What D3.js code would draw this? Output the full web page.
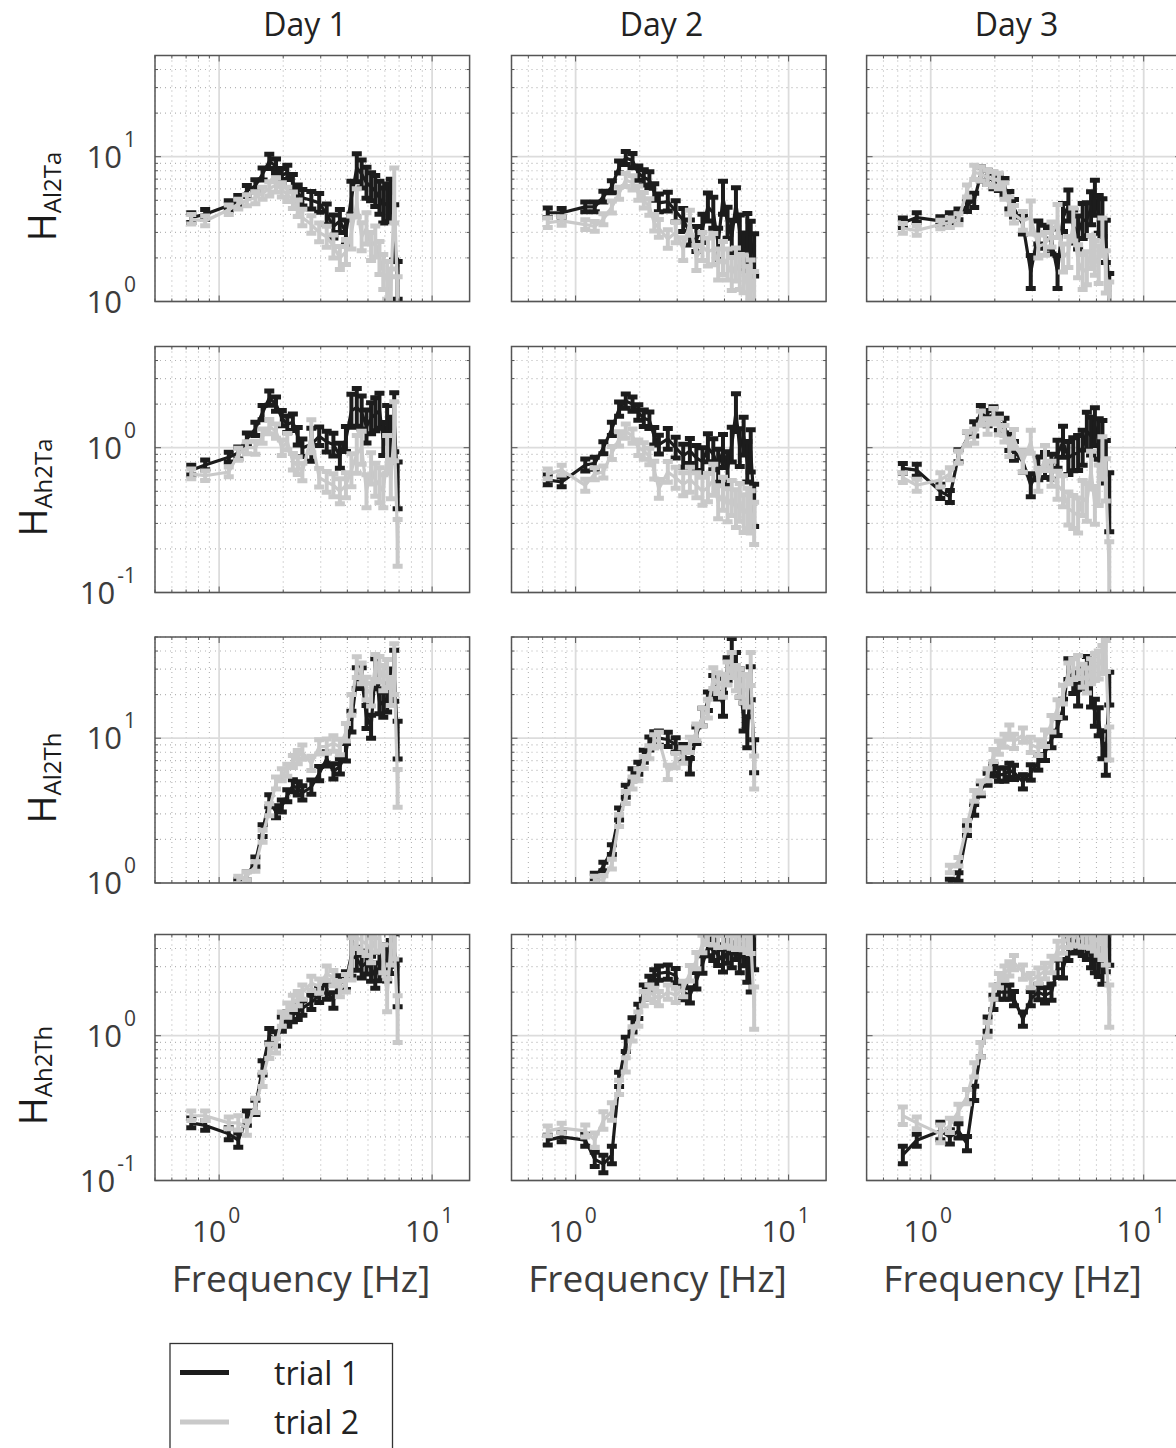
<!DOCTYPE html>
<html>
<head>
<meta charset="utf-8">
<script src="https://cdn.jsdelivr.net/npm/d3@7"></script>
<style>
  body { margin: 0; background: #fff; }
  svg { font-family: "Open Sans", sans-serif; }
</style>
</head>
<body>
<svg width="1176" height="1448"></svg>
<script>
// frequencies shared by every panel (Hz)
var freq = [0.74, 0.86, 1.11, 1.23, 1.35, 1.48, 1.60, 1.72, 1.85, 1.97, 2.09, 2.22, 2.34, 2.46, 2.71, 2.95,
            3.20, 3.44, 3.69, 3.94, 4.18, 4.43, 4.67, 4.92, 5.17, 5.41, 5.66, 5.90, 6.15, 6.40, 6.64, 6.89];

var days = ["Day 1", "Day 2", "Day 3"];
var trials = ["trial 1", "trial 2"];
var rowSubs = ["Al2Ta", "Ah2Ta", "Al2Th", "Ah2Th"];
var rowDomains = [[1, 50], [0.1, 5], [1, 50], [0.1, 5]];
var yTickExp = [[0, 1], [-1, 0], [0, 1], [-1, 0]];
var xTickExp = [0, 1];

// H_Al2Ta
var al2ta_d1_t1 = [3.8, 4.0, 4.6, 5.0, 5.8, 6.3, 7.6, 9.3, 8.6, 7.4, 7.8, 6.6, 5.6, 5.2, 5.0, 4.8, 4.0, 3.3, 3.6, 3.0, 5.2, 8.4, 7.6, 6.6, 6.2, 5.8, 5.2, 4.6, 4.8, 5.0, 3.0, 1.4];
var al2ta_d1_t2 = [3.7, 3.6, 4.3, 4.7, 5.0, 5.2, 5.6, 6.0, 6.4, 5.9, 5.5, 5.0, 4.4, 3.8, 3.4, 3.0, 2.8, 2.4, 2.0, 2.2, 3.0, 4.8, 2.8, 3.2, 2.4, 2.6, 2.0, 1.6, 1.4, 1.2, 5.4, 1.1];
var al2ta_d2_t1 = [4.1, 4.1, 4.5, 4.5, 5.3, 6.2, 8.5, 9.8, 9.4, 7.7, 7.2, 6.9, 5.7, 4.8, 4.9, 4.2, 3.65, 3.0, 2.7, 3.2, 4.5, 4.1, 2.5, 5.2, 3.5, 2.8, 4.7, 3.0, 2.2, 3.0, 2.6, 2.1];
var al2ta_d2_t2 = [3.5, 3.6, 3.4, 3.3, 3.7, 4.5, 5.6, 6.9, 6.6, 5.6, 5.0, 4.5, 3.5, 3.2, 2.7, 3.0, 2.3, 3.5, 2.0, 2.4, 2.2, 2.3, 1.8, 2.0, 1.8, 1.55, 1.8, 1.6, 1.55, 1.3, 1.4, 1.15];
var al2ta_d3_t1 = [3.5, 3.8, 3.6, 3.8, 4.0, 4.6, 5.0, 7.6, 7.2, 6.8, 6.6, 6.2, 5.0, 4.4, 3.4, 1.6, 3.0, 2.8, 2.6, 1.6, 3.8, 4.6, 3.3, 3.0, 3.6, 3.7, 4.4, 5.2, 4.0, 3.8, 2.6, 1.2];
var al2ta_d3_t2 = [3.2, 3.1, 3.4, 3.5, 3.7, 5.8, 7.8, 7.6, 7.2, 7.0, 6.8, 5.8, 4.6, 4.0, 3.6, 3.8, 2.4, 2.5, 2.9, 3.6, 2.0, 2.2, 3.4, 1.9, 1.6, 1.7, 2.2, 2.0, 1.8, 2.8, 1.6, 1.05];

// H_Ah2Ta
var ah2ta_d1_t1 = [0.70, 0.76, 0.86, 0.92, 1.15, 1.35, 1.75, 2.2, 2.0, 1.6, 1.45, 1.5, 1.2, 1.0, 1.05, 1.2, 1.1, 1.05, 0.88, 1.15, 1.8, 1.9, 1.75, 1.4, 1.6, 1.7, 1.8, 1.15, 1.45, 1.2, 1.5, 0.55];
var ah2ta_d1_t2 = [0.66, 0.64, 0.68, 0.90, 1.0, 1.0, 1.2, 1.4, 1.3, 1.0, 1.1, 0.8, 0.75, 0.68, 1.2, 0.62, 0.58, 0.55, 0.5, 0.55, 0.7, 0.9, 1.0, 0.5, 0.72, 0.6, 0.55, 0.5, 0.9, 0.6, 1.3, 0.22];
var ah2ta_d2_t1 = [0.60, 0.58, 0.76, 0.78, 1.0, 1.35, 1.85, 2.1, 2.0, 1.75, 1.6, 1.55, 1.2, 1.05, 1.15, 1.0, 0.88, 0.95, 0.85, 0.8, 1.0, 0.9, 0.75, 0.95, 0.72, 1.05, 1.75, 1.0, 1.2, 0.8, 0.95, 0.4];
var ah2ta_d2_t2 = [0.66, 0.70, 0.55, 0.66, 0.68, 0.92, 1.15, 1.3, 1.2, 1.0, 0.95, 0.87, 0.7, 0.52, 0.68, 0.62, 0.56, 0.6, 0.55, 0.5, 0.53, 0.6, 0.42, 0.48, 0.4, 0.45, 0.38, 0.42, 0.35, 0.38, 0.36, 0.3];
var ah2ta_d3_t1 = [0.72, 0.70, 0.50, 0.46, 0.88, 1.15, 1.35, 1.75, 1.6, 1.7, 1.5, 1.4, 1.1, 0.95, 0.8, 0.55, 0.72, 0.76, 0.74, 0.9, 1.1, 0.85, 0.9, 0.92, 1.0, 1.3, 1.2, 1.4, 1.15, 1.1, 0.8, 0.42];
var ah2ta_d3_t2 = [0.62, 0.55, 0.60, 0.66, 0.86, 1.15, 1.2, 1.6, 1.4, 1.65, 1.4, 1.25, 1.0, 1.15, 0.8, 1.1, 0.6, 0.85, 0.66, 0.55, 0.5, 0.38, 0.36, 0.34, 0.45, 0.42, 0.7, 0.4, 0.55, 0.85, 0.6, 0.14];

// H_Al2Th
var al2th_d1_t1 = [null, null, null, 1.0, 1.12, 1.4, 2.3, 3.7, 3.1, 3.4, 4.0, 4.7, 4.5, 4.2, 4.6, 5.7, 7.2, 5.9, 6.4, 8.0, 13, 26, 26, 14, 12, 29, 18, 17, 19, 24, 27, 9.7];
var al2th_d1_t2 = [null, null, null, 1.05, 1.12, 1.3, 2.1, 3.2, 4.9, 5.6, 6.0, 6.9, 7.4, 8.0, 6.7, 8.7, 8.8, 9.2, 8.7, 11, 17, 31, 28, 22, 20, 31, 30, 26, 28, 21, 30, 4.5];
var al2th_d2_t1 = [null, null, null, 1.1, 1.3, 1.7, 3.0, 4.3, 5.6, 6.2, 7.5, 9.2, 10, 10, 9.8, 9.0, 8.0, 6.4, 10.5, 14, 18, 23, 22, 17, 30, 40, 32, 24, 14, 11, 24, 7.5];
var al2th_d2_t2 = [null, null, null, 1.05, 1.05, 1.35, 2.7, 3.9, 4.9, 5.6, 6.8, 8.0, 9.5, 9.8, 5.8, 7.0, 7.6, 9.0, 11, 14, 16, 26, 24, 23, 28, 32, 26, 24, 22, 21, 30, 5.8];
var al2th_d3_t1 = [null, null, null, 1.0, 1.1, 2.3, 3.2, 4.4, 5.2, 6.0, 5.6, 5.6, 6.0, 5.8, 5.0, 5.8, 6.8, 8.0, 9.8, 12, 16, 30, 24, 20, 26, 30, 20, 15, 13, 9.0, 7.1, 22];
var al2th_d3_t2 = [null, null, null, 1.25, 1.4, 2.5, 4.0, 4.6, 5.6, 7.6, 8.6, 9.6, 11, 9.5, 10.5, 9.0, 8.6, 10, 12.6, 16, 20, 28, 30, 31, 27, 25, 29, 31, 32, 35, 37, 9.2];

// H_Ah2Th
var ah2th_d1_t1 = [0.25, 0.24, 0.21, 0.19, 0.27, 0.32, 0.6, 1.0, 0.95, 1.2, 1.3, 1.4, 1.45, 1.55, 1.7, 1.9, 2.0, 1.75, 2.3, 2.4, 3.6, 3.4, 3.0, 3.2, 2.9, 2.6, 3.0, 3.4, 3.1, 3.5, 3.9, 2.3];
var ah2th_d1_t2 = [0.28, 0.28, 0.25, 0.25, 0.23, 0.33, 0.5, 0.78, 0.85, 1.3, 1.5, 1.7, 1.8, 2.0, 2.3, 2.2, 2.7, 2.5, 2.1, 2.3, 3.4, 4.8, 4.5, 4.3, 3.9, 4.6, 4.8, 3.4, 1.9, 4.0, 4.4, 1.3];
var ah2th_d2_t1 = [0.19, 0.20, 0.19, 0.14, 0.13, 0.15, 0.5, 0.87, 1.19, 1.47, 2.0, 2.3, 2.55, 2.7, 2.75, 2.6, 2.0, 1.9, 2.4, 3.1, 4.1, 3.9, 3.6, 3.3, 3.8, 3.6, 4.1, 3.4, 3.8, 3.0, 2.6, 4.0];
var ah2th_d2_t2 = [0.22, 0.23, 0.22, 0.19, 0.26, 0.30, 0.44, 0.63, 1.03, 1.3, 1.8, 2.0, 1.9, 1.8, 2.0, 1.9, 2.1, 2.7, 3.3, 4.3, 4.9, 5.0, 4.8, 4.9, 5.0, 4.9, 4.8, 5.0, 4.9, 4.8, 4.8, 1.55];
var ah2th_d3_t1 = [0.15, 0.19, 0.22, 0.20, 0.22, 0.18, 0.4, 0.8, 1.2, 1.7, 2.0, 2.0, 2.0, 1.8, 1.3, 1.8, 2.0, 1.9, 2.0, 2.9, 2.9, 3.9, 4.4, 4.6, 4.3, 4.1, 3.6, 3.4, 3.2, 2.9, 3.6, 4.3];
var ah2th_d3_t2 = [0.28, 0.25, 0.21, 0.24, 0.30, 0.38, 0.58, 0.8, 1.1, 2.0, 2.4, 2.7, 2.9, 3.2, 2.75, 2.4, 2.6, 2.8, 3.1, 3.9, 4.3, 4.8, 5.0, 5.0, 4.9, 5.0, 4.9, 4.8, 4.5, 4.3, 4.0, 1.6];

// relative error-bar half widths, one list per panel (both trials)
var err_al2ta = [
  [0.08, 0.08, 0.08, 0.08, 0.09, 0.10, 0.10, 0.12, 0.12, 0.12, 0.12, 0.14, 0.14, 0.14, 0.15, 0.16, 0.18, 0.20, 0.20, 0.22, 0.30, 0.25, 0.25, 0.28, 0.25, 0.28, 0.30, 0.32, 0.35, 0.40, 0.55, 0.35],
  [0.08, 0.07, 0.08, 0.08, 0.09, 0.10, 0.10, 0.11, 0.12, 0.12, 0.13, 0.14, 0.14, 0.15, 0.16, 0.18, 0.20, 0.22, 0.22, 0.25, 0.25, 0.28, 0.28, 0.30, 0.28, 0.30, 0.30, 0.32, 0.35, 0.35, 0.38, 0.40],
  [0.08, 0.08, 0.07, 0.08, 0.09, 0.10, 0.12, 0.12, 0.12, 0.13, 0.13, 0.14, 0.15, 0.15, 0.16, 0.30, 0.20, 0.20, 0.22, 0.30, 0.25, 0.28, 0.30, 0.30, 0.32, 0.30, 0.30, 0.32, 0.35, 0.35, 0.40, 0.30]
];
var err_ah2ta = [
  [0.08, 0.08, 0.08, 0.10, 0.10, 0.11, 0.12, 0.12, 0.12, 0.13, 0.14, 0.14, 0.15, 0.15, 0.30, 0.16, 0.18, 0.20, 0.22, 0.22, 0.30, 0.35, 0.30, 0.30, 0.28, 0.30, 0.32, 0.30, 0.35, 0.35, 0.60, 0.45],
  [0.08, 0.08, 0.10, 0.10, 0.10, 0.11, 0.12, 0.12, 0.12, 0.13, 0.14, 0.14, 0.15, 0.16, 0.18, 0.18, 0.20, 0.22, 0.22, 0.25, 0.25, 0.28, 0.30, 0.30, 0.30, 0.32, 0.35, 0.35, 0.35, 0.38, 0.40, 0.40],
  [0.08, 0.10, 0.12, 0.10, 0.10, 0.11, 0.12, 0.12, 0.13, 0.13, 0.14, 0.14, 0.15, 0.16, 0.18, 0.20, 0.20, 0.22, 0.22, 0.25, 0.28, 0.30, 0.30, 0.32, 0.32, 0.35, 0.35, 0.35, 0.38, 0.40, 0.40, 0.60]
];
var err_al2th = [
  [0, 0, 0, 0.06, 0.07, 0.08, 0.10, 0.10, 0.10, 0.10, 0.10, 0.10, 0.11, 0.12, 0.12, 0.12, 0.12, 0.13, 0.13, 0.15, 0.18, 0.18, 0.18, 0.20, 0.20, 0.22, 0.22, 0.22, 0.25, 0.25, 0.50, 0.35],
  [0, 0, 0, 0.06, 0.07, 0.08, 0.10, 0.10, 0.10, 0.10, 0.10, 0.11, 0.11, 0.12, 0.12, 0.12, 0.13, 0.13, 0.14, 0.15, 0.16, 0.18, 0.18, 0.20, 0.20, 0.22, 0.22, 0.25, 0.25, 0.28, 0.30, 0.30],
  [0, 0, 0, 0.06, 0.07, 0.08, 0.09, 0.10, 0.10, 0.10, 0.11, 0.11, 0.12, 0.12, 0.12, 0.13, 0.13, 0.14, 0.14, 0.15, 0.16, 0.18, 0.18, 0.20, 0.20, 0.22, 0.22, 0.24, 0.25, 0.25, 0.28, 0.30]
];
var err_ah2th = [
  [0.08, 0.08, 0.10, 0.12, 0.12, 0.12, 0.12, 0.12, 0.12, 0.12, 0.12, 0.12, 0.12, 0.12, 0.12, 0.12, 0.12, 0.13, 0.13, 0.15, 0.40, 0.20, 0.20, 0.20, 0.22, 0.22, 0.25, 0.25, 0.30, 0.30, 0.30, 0.45],
  [0.08, 0.08, 0.10, 0.12, 0.15, 0.15, 0.12, 0.12, 0.12, 0.12, 0.12, 0.12, 0.12, 0.12, 0.12, 0.12, 0.13, 0.13, 0.14, 0.15, 0.15, 0.18, 0.18, 0.20, 0.20, 0.22, 0.22, 0.25, 0.25, 0.28, 0.30, 0.40],
  [0.15, 0.10, 0.15, 0.12, 0.12, 0.12, 0.12, 0.12, 0.12, 0.12, 0.12, 0.12, 0.12, 0.12, 0.12, 0.12, 0.13, 0.13, 0.14, 0.15, 0.16, 0.18, 0.18, 0.20, 0.20, 0.22, 0.22, 0.25, 0.25, 0.28, 0.30, 0.40]
];

var rowSeries = [
  [[al2ta_d1_t1, al2ta_d1_t2], [al2ta_d2_t1, al2ta_d2_t2], [al2ta_d3_t1, al2ta_d3_t2]],
  [[ah2ta_d1_t1, ah2ta_d1_t2], [ah2ta_d2_t1, ah2ta_d2_t2], [ah2ta_d3_t1, ah2ta_d3_t2]],
  [[al2th_d1_t1, al2th_d1_t2], [al2th_d2_t1, al2th_d2_t2], [al2th_d3_t1, al2th_d3_t2]],
  [[ah2th_d1_t1, ah2th_d1_t2], [ah2th_d2_t1, ah2th_d2_t2], [ah2th_d3_t1, ah2th_d3_t2]]
];
var rowErr = [err_al2ta, err_ah2ta, err_al2th, err_ah2th];

var trialColors = ["#1c1c1c", "#c9c9c9"];
var colX = [155, 511.5, 866.6];
var rowY = [55.5, 346.5, 637, 934.5];
var pw = 314.6, ph = 246;

var svg = d3.select("svg");
svg.append("rect").attr("width", 1176).attr("height", 1448).attr("fill", "#fff");

var x = d3.scaleLog().domain([0.5, 15]).range([0, pw]);
var xMinor = x.ticks();
var isPow10 = function (v) { var l = Math.log10(v); return Math.abs(l - Math.round(l)) < 1e-9; };

var line = d3.line()
  .defined(function (d) { return d.v != null; })
  .x(function (d) { return x(d.f); })
  .y(function (d) { return d.y; });

rowSeries.forEach(function (days3, r) {
  var y = d3.scaleLog().domain(rowDomains[r]).range([ph, 0]);
  var yMinor = y.ticks();

  days3.forEach(function (pair, c) {
    var g = svg.append("g").attr("transform", "translate(" + colX[c] + "," + rowY[r] + ")");
    var clipId = "clip-" + r + "-" + c;
    g.append("clipPath").attr("id", clipId)
      .append("rect").attr("width", pw).attr("height", ph);

    // grid
    g.append("g").selectAll("line")
      .data(xMinor).enter().append("line")
      .attr("x1", function (d) { return x(d); }).attr("x2", function (d) { return x(d); })
      .attr("y1", 0).attr("y2", ph)
      .attr("stroke", function (d) { return isPow10(d) ? "#dcdcdc" : "#b4b4b4"; })
      .attr("stroke-width", function (d) { return isPow10(d) ? 1.8 : 1.1; })
      .attr("stroke-dasharray", function (d) { return isPow10(d) ? null : "1,4"; });
    g.append("g").selectAll("line")
      .data(yMinor).enter().append("line")
      .attr("y1", function (d) { return y(d); }).attr("y2", function (d) { return y(d); })
      .attr("x1", 0).attr("x2", pw)
      .attr("stroke", function (d) { return isPow10(d) ? "#dcdcdc" : "#b4b4b4"; })
      .attr("stroke-width", function (d) { return isPow10(d) ? 1.8 : 1.1; })
      .attr("stroke-dasharray", function (d) { return isPow10(d) ? null : "1,4"; });

    // data: line plus error bars with caps
    var plot = g.append("g").attr("clip-path", "url(#" + clipId + ")");
    pair.forEach(function (vals, t) {
      var errs = rowErr[r][c];
      var pts = freq.map(function (f, i) {
        var v = vals[i];
        return { f: f, v: v, y: v == null ? 0 : y(v),
                 lo: v == null ? 0 : y(v / (1 + errs[i])),
                 hi: v == null ? 0 : y(v * (1 + errs[i])) };
      });
      var s = plot.append("g").attr("stroke", trialColors[t]).attr("fill", "none");
      s.append("path").datum(pts).attr("d", line)
        .attr("stroke-width", 3.2).attr("stroke-linejoin", "round");
      var ok = pts.filter(function (d) { return d.v != null; });
      s.selectAll(".bar").data(ok).enter().append("line")
        .attr("x1", function (d) { return x(d.f); }).attr("x2", function (d) { return x(d.f); })
        .attr("y1", function (d) { return d.lo; }).attr("y2", function (d) { return d.hi; })
        .attr("stroke-width", 4);
      s.selectAll(".capLo").data(ok).enter().append("line")
        .attr("x1", function (d) { return x(d.f) - 5; }).attr("x2", function (d) { return x(d.f) + 5; })
        .attr("y1", function (d) { return d.lo; }).attr("y2", function (d) { return d.lo; })
        .attr("stroke-width", 5);
      s.selectAll(".capHi").data(ok).enter().append("line")
        .attr("x1", function (d) { return x(d.f) - 5; }).attr("x2", function (d) { return x(d.f) + 5; })
        .attr("y1", function (d) { return d.hi; }).attr("y2", function (d) { return d.hi; })
        .attr("stroke-width", 5);
    });

    // ticks on all four sides
    var tk = g.append("g").attr("stroke", "#555").attr("stroke-width", 1);
    xMinor.forEach(function (d) {
      var L = isPow10(d) ? 6 : 3;
      tk.append("line").attr("x1", x(d)).attr("x2", x(d)).attr("y1", ph).attr("y2", ph - L);
      tk.append("line").attr("x1", x(d)).attr("x2", x(d)).attr("y1", 0).attr("y2", L);
    });
    yMinor.forEach(function (d) {
      var L = isPow10(d) ? 6 : 3;
      tk.append("line").attr("y1", y(d)).attr("y2", y(d)).attr("x1", 0).attr("x2", L);
      tk.append("line").attr("y1", y(d)).attr("y2", y(d)).attr("x1", pw).attr("x2", pw - L);
    });

    g.append("rect").attr("width", pw).attr("height", ph)
      .attr("fill", "none").attr("stroke", "#555").attr("stroke-width", 1.5);

    // y tick labels on the first column
    if (c === 0) {
      yTickExp[r].forEach(function (e) {
        var t = g.append("text")
          .attr("x", -19).attr("y", y(Math.pow(10, e)) + 11)
          .attr("text-anchor", "end").attr("fill", "#3c3c3c")
          .attr("font-size", 31).text("10");
        t.append("tspan").attr("dy", -21).attr("font-size", 21).text("\u200a" + (e < 0 ? "-" + (-e) : e));
      });
      var lx = (r % 2 === 1) ? -108 : -99;
      var lab = g.append("text")
        .attr("transform", "translate(" + lx + "," + (ph / 2 + 18) + ") rotate(-90)")
        .attr("text-anchor", "middle").attr("fill", "#1a1a1a")
        .attr("font-size", 38).text("H");
      lab.append("tspan").attr("font-size", 24).attr("dy", 5).text(rowSubs[r]);
    }

    // x tick labels and axis label on the last row
    if (r === 3) {
      xTickExp.forEach(function (e) {
        var t = g.append("text")
          .attr("x", x(Math.pow(10, e)) - 3).attr("y", ph + 61)
          .attr("text-anchor", "middle").attr("fill", "#3c3c3c")
          .attr("font-size", 30).text("10");
        t.append("tspan").attr("dy", -19).attr("font-size", 21).text("\u200a" + e);
      });
      g.append("text")
        .attr("x", 146).attr("y", ph + 111)
        .attr("text-anchor", "middle").attr("fill", "#3c3c3c")
        .attr("font-size", 37).text("Frequency [Hz]");
    }

    if (r === 0) {
      g.append("text")
        .attr("x", 150).attr("y", 36 - rowY[0])
        .attr("text-anchor", "middle").attr("fill", "#222")
        .attr("font-size", 32).text(days[c]);
    }
  });
});

// legend
var leg = svg.append("g").attr("transform", "translate(170,1343.5)");
leg.append("rect").attr("width", 222.5).attr("height", 130)
  .attr("fill", "#fff").attr("stroke", "#333").attr("stroke-width", 1.3);
trials.forEach(function (name, i) {
  leg.append("line").attr("x1", 10).attr("x2", 59)
    .attr("y1", 29 + i * 49.5).attr("y2", 29 + i * 49.5)
    .attr("stroke", trialColors[i]).attr("stroke-width", 5);
  leg.append("text").attr("x", 104).attr("y", 41 + i * 49.5)
    .attr("fill", "#222").attr("font-size", 32).text(name);
});
</script>
</body>
</html>
